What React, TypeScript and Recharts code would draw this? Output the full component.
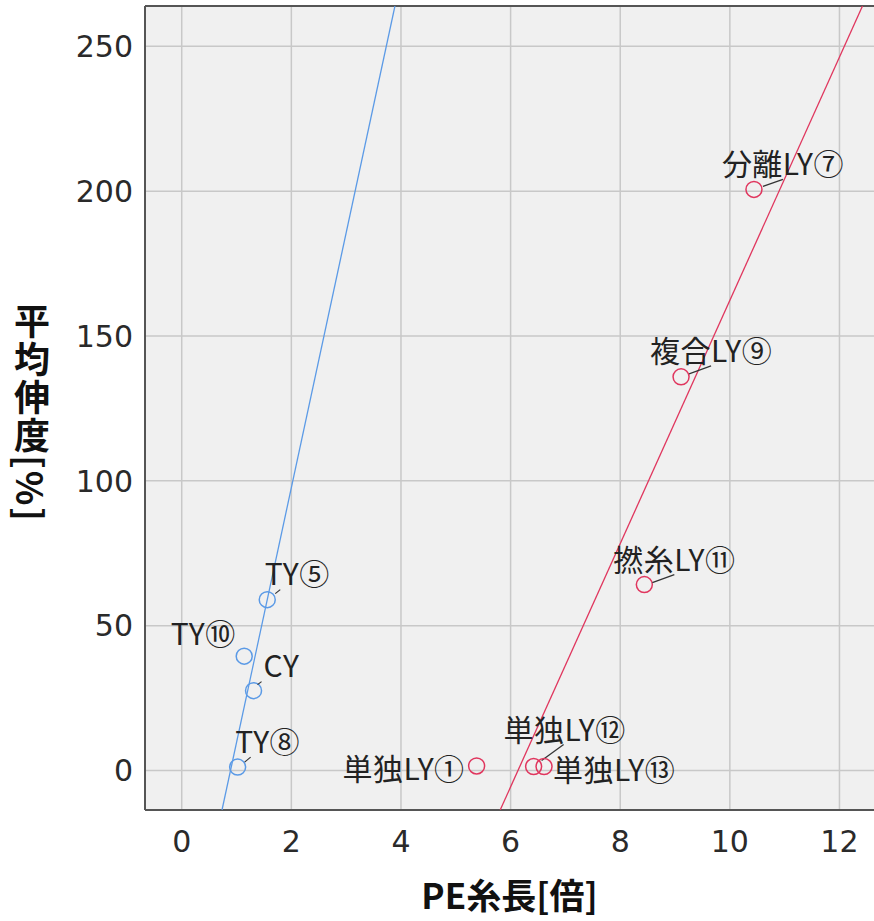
import { ScatterChart, Scatter, XAxis, YAxis, CartesianGrid, ReferenceLine } from 'recharts';

// TY / CY group (blue)
const tyNames = ['TY⑤', 'TY⑩', 'CY', 'TY⑧'];
const tyLength = [1.56, 1.14, 1.31, 1.02];
const tyElong = [59.0, 39.5, 27.6, 1.2];

// LY group (red)
const lyNames = ['単独LY①', '単独LY⑫', '単独LY⑬', '分離LY⑦', '複合LY⑨', '撚糸LY⑪'];
const lyLength = [5.38, 6.42, 6.61, 10.44, 9.11, 8.44];
const lyElong = [1.6, 1.4, 1.4, 200.6, 135.9, 64.2];

// fit line end points
const tyFitX = [0.735, 3.89];
const tyFitY = [-13.6, 263.9];
const lyFitX = [5.81, 12.42];
const lyFitY = [-13.6, 263.9];

const xTicks = [0, 2, 4, 6, 8, 10, 12];
const yTicks = [0, 50, 100, 150, 200, 250];

const X_DOMAIN = [-0.67, 12.63];
const Y_DOMAIN = [-13.6, 263.9];

const BLUE = '#5b9ae6';
const RED = '#e0365e';
const FONT = '"Noto Sans CJK JP", "Noto Sans", sans-serif';

// label placement relative to the marker
const labelPos: Record<string, { tx: number; ty: number; anchor: string; lead?: number[] }> = {
  'TY⑤': { tx: 30, ty: -28, anchor: 'middle', lead: [8, -6, 13, -10] },
  'TY⑩': { tx: -41, ty: -24, anchor: 'middle' },
  'CY': { tx: 28, ty: -27, anchor: 'middle', lead: [4, -6, 8, -9] },
  'TY⑧': { tx: 30, ty: -27, anchor: 'middle', lead: [7, -5, 13, -10] },
  '単独LY①': { tx: -12, ty: 1, anchor: 'end' },
  '単独LY⑫': { tx: 31, ty: -39, anchor: 'middle', lead: [8, -6, 30, -22] },
  '単独LY⑬': { tx: 9, ty: 1, anchor: 'start' },
  '分離LY⑦': { tx: 29, ty: -27, anchor: 'middle', lead: [9, -3, 29, -10] },
  '複合LY⑨': { tx: 30, ty: -28, anchor: 'middle', lead: [8, -3, 30, -11] },
  '撚糸LY⑪': { tx: 30, ty: -27, anchor: 'middle', lead: [8, -2, 30, -10] },
};

const tyData = tyNames.map((name, i) => ({ name, x: tyLength[i], y: tyElong[i] }));
const lyData = lyNames.map((name, i) => ({ name, x: lyLength[i], y: lyElong[i] }));
const tyFit = tyFitX.map((x, i) => ({ x, y: tyFitY[i] }));
const lyFit = lyFitX.map((x, i) => ({ x, y: lyFitY[i] }));

const makeShape = (color: string) => (props: any) => {
  const { cx, cy, payload } = props;
  const p = labelPos[payload.name];
  return (
    <g>
      <circle cx={cx} cy={cy} r={8} fill="none" stroke={color} strokeWidth={1.5} />
      {p.lead && (
        <line
          x1={cx + p.lead[0]}
          y1={cy + p.lead[1]}
          x2={cx + p.lead[2]}
          y2={cy + p.lead[3]}
          stroke="#333"
          strokeWidth={1.2}
        />
      )}
      <text
        x={cx + p.tx}
        y={cy + p.ty}
        textAnchor={p.anchor as any}
        dominantBaseline="central"
        fontFamily={FONT}
        fontSize={30}
        letterSpacing={0.5}
        fill="#222"
      >
        {payload.name}
      </text>
    </g>
  );
};

const noDot = () => <g />;

export default function App() {
  return (
    <div style={{ position: 'absolute', left: 0, top: 0, background: '#fff' }}>
      <ScatterChart width={874} height={921} margin={{ top: 6, right: 0, bottom: 0, left: 0 }}>
        <CartesianGrid stroke="#c8c8c8" strokeWidth={1.5} fill="#f0f0f0" horizontalValues={yTicks} verticalValues={xTicks} />
        <XAxis
          type="number"
          dataKey="x"
          domain={X_DOMAIN}
          ticks={xTicks}
          allowDataOverflow
          height={111}
          tickLine={false}
          tickSize={0}
          tickMargin={21}
          axisLine={{ stroke: '#555', strokeWidth: 2 }}
          tick={{ fill: '#2a2a2a', fontSize: 30, fontFamily: 'DejaVu Sans' }}
          label={{
            content: (props: any) => {
              const vb = props.viewBox;
              return (
                <text
                  x={vb.x + vb.width / 2}
                  y={vb.y + 99}
                  textAnchor="middle"
                  fontFamily={FONT}
                  fontWeight="bold"
                  fontSize={35}
                  fill="#111"
                >
                  PE糸長[倍]
                </text>
              );
            },
          }}
        />
        <YAxis
          type="number"
          dataKey="y"
          domain={Y_DOMAIN}
          ticks={yTicks}
          allowDataOverflow
          width={145}
          tickLine={false}
          tickSize={0}
          tickMargin={12}
          axisLine={{ stroke: '#555', strokeWidth: 2 }}
          tick={{ fill: '#2a2a2a', fontSize: 30, fontFamily: 'DejaVu Sans' }}
          label={{
            content: (props: any) => {
              const vb = props.viewBox;
              return (
                <text
                  x={32}
                  y={vb.y + vb.height / 2 + 5}
                  textAnchor="middle"
                  fontFamily={FONT}
                  fontWeight="bold"
                  fontSize={36}
                  letterSpacing={2}
                  fill="#111"
                  style={{ writingMode: 'vertical-rl' }}
                >
                  平均伸度[%]
                </text>
              );
            },
          }}
        />
        <ReferenceLine y={Y_DOMAIN[1]} stroke="#555" strokeWidth={2} ifOverflow="visible" />
        <Scatter data={tyFit} line={{ stroke: BLUE, strokeWidth: 1.3 }} shape={noDot} isAnimationActive={false} />
        <Scatter data={lyFit} line={{ stroke: RED, strokeWidth: 1.3 }} shape={noDot} isAnimationActive={false} />
        <Scatter data={tyData} shape={makeShape(BLUE)} isAnimationActive={false} />
        <Scatter data={lyData} shape={makeShape(RED)} isAnimationActive={false} />
      </ScatterChart>
    </div>
  );
}
